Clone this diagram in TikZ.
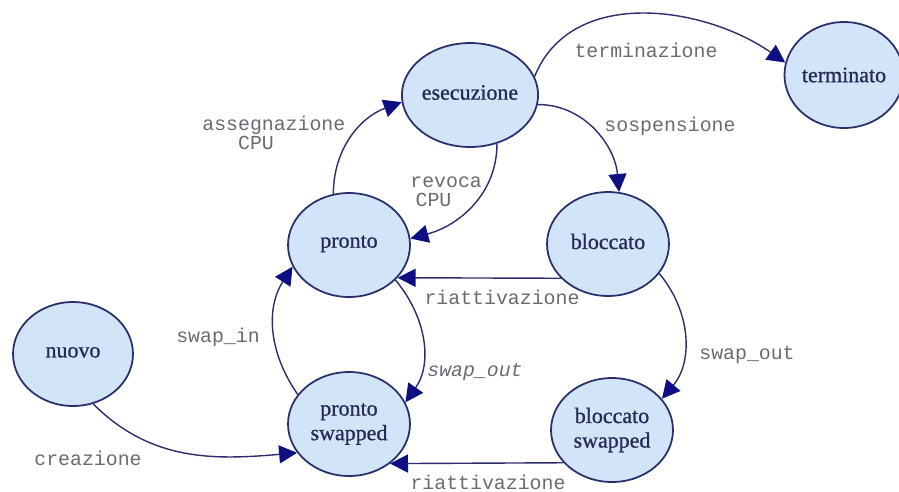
\documentclass[tikz,border=0pt]{standalone}
\usepackage{fontspec}
\setmainfont{Liberation Serif}
\setmonofont{Liberation Mono}
% regular serif, slightly emboldened, for the state names
\newfontfamily\statefont{Liberation Serif}[BoldFont=Liberation Serif, BoldFeatures={FakeBold=0.9}]
\usetikzlibrary{shapes.geometric,arrows.meta}
\definecolor{edgeblue}{HTML}{2B2E6C}
\definecolor{tipblue}{HTML}{0D0F82}
\definecolor{statefill}{HTML}{D2E4F7}
\definecolor{statetext}{HTML}{262A55}
\definecolor{labelgray}{HTML}{6A6A72}
\tikzset{
  state/.style={ellipse, draw=edgeblue, line width=1pt, fill=statefill,
    minimum width=2.44cm, minimum height=2.08cm, inner sep=0pt,
    align=center, text=statetext, font=\statefont\bfseries\fontsize{12.5}{14}\selectfont},
  trans/.style={draw=edgeblue, line width=0.8pt,
    -{Triangle[length=0.36cm,width=0.36cm,fill=tipblue,color=tipblue]}},
  lbl/.style={text=labelgray, inner sep=0pt,
    font=\ttfamily\fontsize{11.3}{13}\selectfont},
}
\begin{document}
\begin{tikzpicture}[x=0.02cm,y=-0.02cm]
\useasboundingbox (0,0) rectangle (899,491);

% states
\node[state] (esec)  at (470,95)  {\raisebox{3pt}{esecuzione}};
\node[state, minimum width=2.22cm, minimum height=2.12cm] (term) at (844,75) {terminato};
\node[state] (pronto) at (349,245) {\raisebox{4pt}{pronto}};
\node[state] (blocc)  at (608,244) {\raisebox{3pt}{bloccato}};
\node[state] (prsw)   at (349,424) {pronto\\swapped};
\node[state] (blsw)   at (612,430) {bloccato\\swapped};
\node[state, minimum width=2.40cm] (nuovo) at (73,354) {\raisebox{2pt}{nuovo}};

% transitions
\draw[trans] (pronto.107) to[out=90,in=200] (esec.186);
\draw[trans] (esec.16) to[out=68,in=145] (term.168);
\draw[trans] (esec.-8) to[out=0,in=95] (blocc.78);
\draw[trans] (esec.-61) to[out=-90,in=15] (pronto.6);
\draw[trans] (blocc.216) -- (pronto.-34);
\draw[trans] (pronto.-37) to[out=-50,in=55] (prsw.21);
\draw[trans] (prsw.150) to[out=125,in=237] (pronto.201);
\draw[trans] (blocc.-30) to[out=-50,in=50] (blsw.32);
\draw[trans] (blsw.214) -- (prsw.-44);
\draw[trans] (nuovo.-68) to[out=-45,in=185] (prsw.209);

% transition labels
\node[lbl] (lterm) at (646,50) {terminazione};
\node[lbl] (lsosp) at (670,126) {sospensione};
\node[lbl, anchor=west, align=left] (lasse) at (202,133) {assegnazione\\[-2pt]\hphantom{ass}CPU};
\node[lbl, anchor=west, align=left] (lrevo) at (410,192) {revoca\\[-2pt]\hspace{3pt}CPU};
\node[lbl] (lriat1) at (502,297) {riattivazione};
\node[lbl] (lswin) at (218,337) {swap\_in};
\node[lbl, font=\ttfamily\itshape\fontsize{11.3}{13}\selectfont] (lswout1) at (475,372) {swap\_out};
\node[lbl] (lswout2) at (747,355) {swap\_out};
\node[lbl] (lriat2) at (488,482) {riattivazione};
\node[lbl] (lcrea) at (88,458) {creazione};
\end{tikzpicture}
\end{document}
